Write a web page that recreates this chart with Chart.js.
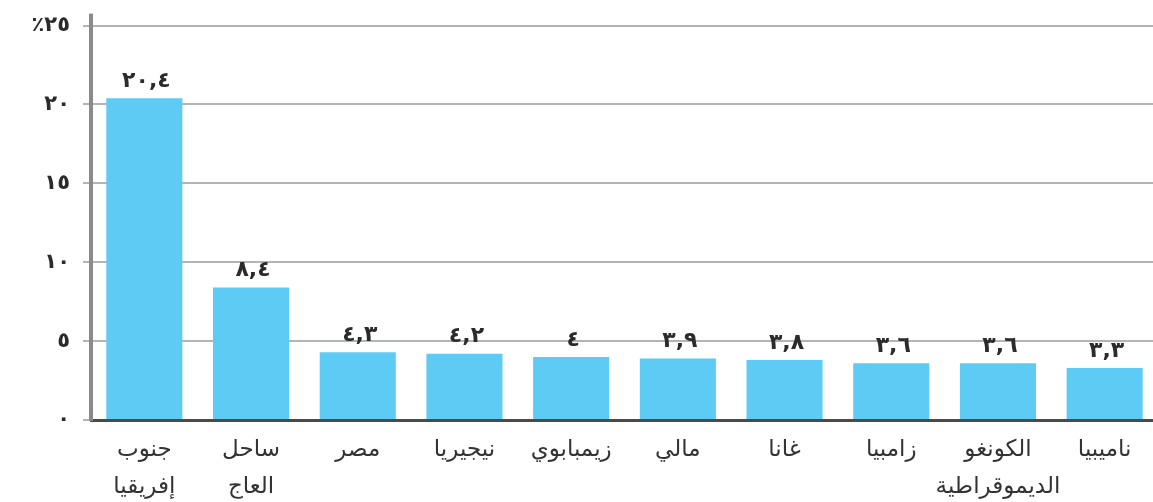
<!DOCTYPE html>
<html><head><meta charset="utf-8">
<script src="https://cdn.jsdelivr.net/npm/chart.js@4"></script>
<style>html,body{margin:0;padding:0;background:#fff;overflow:hidden;}canvas{display:block;}</style>
</head><body>
<canvas id="c" width="1158" height="502"></canvas>
<script>
const categories = [["جنوب","إفريقيا"],["ساحل","العاج"],["مصر"],["نيجيريا"],["زيمبابوي"],["مالي"],["غانا"],["زامبيا"],["الكونغو","الديموقراطية"],["ناميبيا"]];
const values = [20.4, 8.4, 4.3, 4.2, 4, 3.9, 3.8, 3.6, 3.6, 3.3];
const valueLabels = ["٢٠,٤","٨,٤","٤,٣","٤,٢","٤","٣,٩","٣,٨","٣,٦","٣,٦","٣,٣"];
const yTickValues = [0,5,10,15,20,25];
const yTickLabels = ["٠","٥","١٠","١٥","٢٠","٪٢٥"];

const valuePlugin = {
  id:'valueLabels',
  afterDatasetsDraw(chart){
    const ctx = chart.ctx;
    const meta = chart.getDatasetMeta(0);
    ctx.save();
    ctx.font = 'bold 22px "DejaVu Sans"';
    if ('letterSpacing' in ctx) ctx.letterSpacing = '4px';
    ctx.fillStyle = '#2b2b2b';
    ctx.textAlign = 'center';
    ctx.textBaseline = 'bottom';
    meta.data.forEach((bar,i)=>{
      ctx.fillText(valueLabels[i], bar.x + 2, bar.y - 6);
    });
    ctx.restore();
  },
  afterDraw(chart){
    // extend the vertical axis line slightly above the top gridline
    const ctx = chart.ctx, y = chart.scales.y;
    ctx.save();
    ctx.strokeStyle = '#8a8a8a';
    ctx.lineWidth = 4;
    ctx.beginPath();
    ctx.moveTo(y.right, chart.chartArea.top - 12);
    ctx.lineTo(y.right, chart.chartArea.top);
    ctx.stroke();
    ctx.restore();
  }
};

new Chart(document.getElementById('c'), {
  type:'bar',
  data:{labels:categories, datasets:[{data:values, backgroundColor:'#5ECBF4', barPercentage:0.713, categoryPercentage:1}]},
  options:{
    responsive:false, animation:false,
    layout:{padding:{top:12,right:0,left:0,bottom:0}},
    plugins:{legend:{display:false}, tooltip:{enabled:false}},
    scales:{
      x:{
        grid:{display:false, drawTicks:false},
        border:{color:'#4a4a4a', width:3},
        ticks:{color:'#333', font:{family:'"DejaVu Sans"', size:23, lineHeight:1.6}, padding:12, maxRotation:0, autoSkip:false},
        afterFit(s){ s.height = 82; }
      },
      y:{
        min:0, max:25,
        afterBuildTicks(s){ s.ticks = yTickValues.map(v=>({value:v})); },
        grid:{color:'#b4b4b4', lineWidth:2, tickLength:8},
        border:{color:'#8a8a8a', width:4},
        ticks:{color:'#2b2b2b', font:{family:'"DejaVu Sans"', size:21, weight:'bold'}, padding:13,
          callback:(v)=>{ const i = yTickValues.indexOf(v); return i>=0 ? yTickLabels[i] : ''; }},
        afterFit(s){ s.width = 91; }
      }
    }
  },
  plugins:[valuePlugin]
});
</script>
</body></html>
